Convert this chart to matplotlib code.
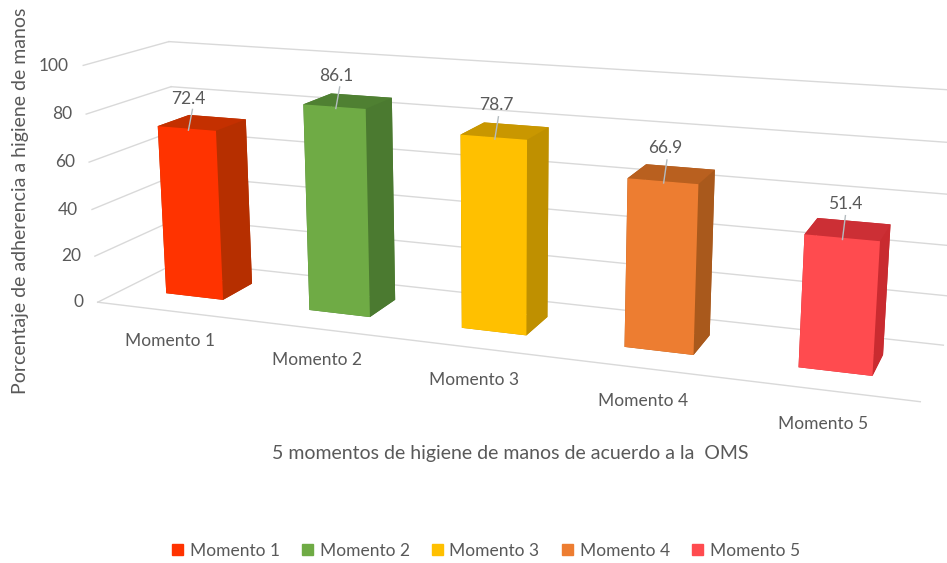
import numpy as np
import matplotlib.pyplot as plt
from matplotlib.patches import Patch

plt.rcParams["font.family"] = ["Lato", "DejaVu Sans"]

categories = ["Momento 1", "Momento 2", "Momento 3", "Momento 4", "Momento 5"]
values = [72.4, 86.1, 78.7, 66.9, 51.4]
z_ticks = [0, 20, 40, 60, 80, 100]
front_colors = ["#ff3300", "#6fab45", "#ffc000", "#ed7d31", "#ff4b4f"]
top_colors = ["#c43000", "#4f8032", "#c99700", "#b9601f", "#cc2f35"]
side_colors = ["#b62f00", "#4b7a30", "#bf9000", "#a9591c", "#c92b30"]

W, H = 947, 563
grid_color = "#d9d9d9"
text_color = "#595959"
bar_w, bar_d, bar_y = 0.4048, 0.3823, 0.5112

fig = plt.figure(figsize=(W / 100, H / 100), dpi=100)
ax = fig.add_axes([0, 0, 1, 1], projection="3d", computed_zorder=False)
# the camera below stretches x and y differently, so no square axes box
ax.apply_aspect = lambda position=None: None
ax.set_xlim(0, 5)
ax.set_ylim(0, 1)
ax.set_zlim(0, 100)
ax.set_xticks([])
ax.set_yticks([])
ax.set_zticks([])
ax.view_init(elev=14.35, azim=-69.58)
ax.set_proj_type("persp", focal_length=0.3696)
ax.set_box_aspect((1, np.exp(-1.6295), np.exp(-1.1972)))
ax.set_axis_off()

# pixel scale of the view plane
sx, x0 = 4768.7, 504.4
sy, y0 = 4675.8, 202.4
xa, xb = ax.viewLim.intervalx
ya, yb = ax.viewLim.intervaly
ax.set_position([(x0 + sx * xa) / W, (H - y0 + sy * ya) / H, sx * (xb - xa) / W, sy * (yb - ya) / H])

for z in z_ticks:
    ax.plot([0, 5], [1, 1], [z, z], color=grid_color, lw=1, zorder=1, clip_on=False)
    ax.plot([0, 0], [0, 1], [z, z], color=grid_color, lw=1, zorder=1, clip_on=False)
    ax.text(-0.1, 0, z, str(z), ha="right", va="center_baseline", color=text_color, fontsize=12.5)
ax.plot([0, 5], [0, 0], [0, 0], color=grid_color, lw=1, zorder=1, clip_on=False)

for i, v in enumerate(values):
    faces = [side_colors[i], top_colors[i], front_colors[i], side_colors[i], side_colors[i], side_colors[i]]
    ax.bar3d(i + 0.5 - bar_w / 2, bar_y - bar_d / 2, 0, bar_w, bar_d, v, color=faces, shade=False, zorder=2 + i)
    # leader line and value
    ax.plot([i + 0.5, i + 0.5], [0.34, 0.4], [v - 1, v + 7], color="#b4bcc0", lw=1, zorder=10, clip_on=False)
    ax.text(i + 0.5, 0.36, v + 12, f"{v}", ha="center", va="center", color=text_color, fontsize=12.5, zorder=11)
    ax.text(i + 0.5, 0, -13, categories[i], ha="center", va="center", color=text_color, fontsize=12.5, zorder=11)

fig.text(510 / W, 1 - 453 / H, "5 momentos de higiene de manos de acuerdo a la  OMS",
         ha="center", va="center", color=text_color, fontsize=14)
fig.text(21 / W, 1 - 201 / H, "Porcentaje de adherencia a higiene de manos",
         rotation=90, ha="center", va="center", color=text_color, fontsize=14)

handles = [Patch(color=c, label=n) for c, n in zip(front_colors, categories)]
fig.legend(handles=handles, ncol=5, loc="center", bbox_to_anchor=(486 / W, 1 - 551 / H), frameon=False,
           fontsize=12.5, labelcolor=text_color, handlelength=0.6, handleheight=0.6,
           handletextpad=0.4, columnspacing=1.3)

fig.savefig("out.png", dpi=100)
